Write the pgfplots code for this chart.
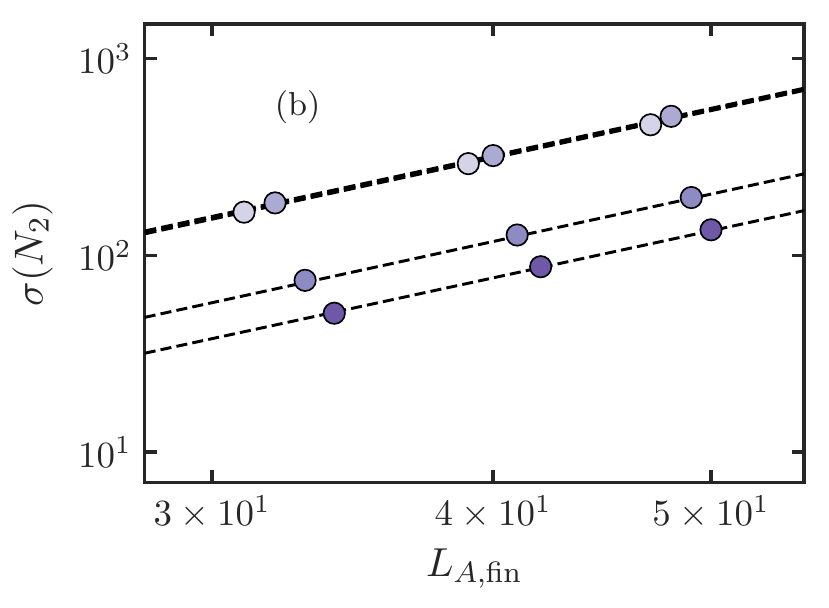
\documentclass[border=0pt]{standalone}
\usepackage{pgfplots}
\pgfplotsset{compat=1.18}
\definecolor{axgray}{HTML}{262626}
\definecolor{c1}{HTML}{D4D4E8}
\definecolor{c2}{HTML}{AAAAD2}
\definecolor{c3}{HTML}{8E8AC4}
\definecolor{c4}{HTML}{6F58A8}
\begin{document}
\begin{tikzpicture}
\begin{axis}[name=ax, scale only axis, width=178.6pt, height=124.1pt,
 xmode=log, ymode=log, xmin=28, xmax=55, ymin=7, ymax=1500,
 xtick={30,40,50}, xticklabels={$3\times10^{1}$,$4\times10^{1}$,$5\times10^{1}$},
 ytick={10,100,1000},
 minor tick num=0, minor tick length=0pt, minor tick style={draw=none},
 tick align=inside, xtick pos=both, ytick pos=both, xticklabel pos=lower, yticklabel pos=left,
 major tick length=3.3pt,
 major tick style={axgray, line width=0.9pt},
 axis line style={axgray, line width=0.95pt},
 tick label style={font=\fontsize{10}{12}\selectfont, text=axgray},
 label style={font=\fontsize{11}{13}\selectfont, text=axgray},
 xlabel={$L_{A,\mathrm{fin}}$}, ylabel={$\sigma(N_2)$},
 xlabel style={yshift=1.5pt},
 every axis plot/.append style={line cap=butt},
]
% fit lines
\addplot[black, line width=1.0pt, dash pattern=on 3.2pt off 1.4pt, forget plot] coordinates {(28,129.3) (55,694)};
\addplot[black, line width=1.0pt, dash pattern=on 3.2pt off 1.4pt, forget plot] coordinates {(28,132.5) (55,706)};
\addplot[black, line width=0.8pt, dash pattern=on 3pt off 1.4pt, forget plot] coordinates {(28,48.4) (55,260)};
\addplot[black, line width=0.8pt, dash pattern=on 3pt off 1.4pt, forget plot] coordinates {(28,31.8) (55,169)};
% data points
\addplot[only marks, mark=*, mark size=2.9pt, mark options={fill=c1, draw=black, line width=0.45pt}] coordinates {(31,166) (39,293) (47,462)};
\addplot[only marks, mark=*, mark size=2.9pt, mark options={fill=c2, draw=black, line width=0.45pt}] coordinates {(32,185) (40,322) (48,510)};
\addplot[only marks, mark=*, mark size=2.9pt, mark options={fill=c3, draw=black, line width=0.45pt}] coordinates {(33,74.7) (41,127) (49,197)};
\addplot[only marks, mark=*, mark size=2.9pt, mark options={fill=c4, draw=black, line width=0.45pt}] coordinates {(34,50.8) (42,87.6) (50,135)};
\node[font=\fontsize{9}{11}\selectfont, text=axgray] at (rel axis cs:0.232,0.818) {(b)};
\end{axis}
\path ([shift={(-38.5pt,-33.75pt)}]ax.south west) rectangle ([shift={(6.75pt,6.56pt)}]ax.north east);
\end{tikzpicture}
\end{document}
